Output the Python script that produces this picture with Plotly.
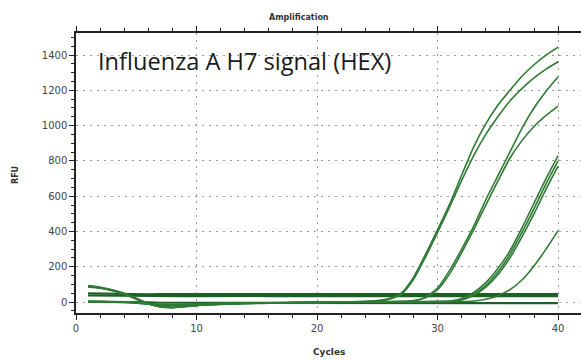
import plotly.graph_objects as go

cycles = list(range(1, 41))

curve_a = [91, 82, 68, 48, 20, -8, -26, -30, -25, -19, -15, -12, -10, -8, -7, -6, -5, -4, -3, -2,
           -1, 0, 2, 4, 8, 20, 52, 140, 270, 410, 555, 720, 880, 1010, 1115, 1200, 1280, 1345, 1400, 1445]
curve_b = [86, 78, 64, 44, 16, -10, -28, -32, -26, -20, -16, -13, -11, -9, -8, -7, -6, -5, -4, -3,
           -2, -1, 1, 3, 6, 16, 45, 128, 255, 395, 540, 690, 830, 950, 1050, 1140, 1210, 1270, 1320, 1362]
curve_c = [93, 84, 70, 50, 22, -6, -24, -29, -24, -18, -14, -11, -9, -7, -6, -5, -4, -3, -2, -1,
           0, 1, 1, 2, 2, 3, 4, 8, 28, 80, 180, 300, 430, 580, 715, 850, 985, 1100, 1195, 1277]
curve_d = [88, 80, 66, 46, 18, -9, -27, -31, -25, -19, -15, -12, -10, -8, -7, -6, -5, -4, -3, -2,
           -1, 0, 0, 1, 1, 2, 3, 6, 24, 70, 160, 280, 410, 550, 685, 815, 915, 995, 1058, 1111]
curve_e = [3, 2, 1, 0, -4, -10, -16, -17, -15, -12, -10, -8, -7, -6, -5, -4, -3, -3, -2, -2,
           -1, -1, 0, 0, 1, 1, 2, 2, 3, 4, 6, 20, 55, 110, 190, 290, 420, 560, 700, 830]
curve_f = [5, 4, 2, 0, -5, -12, -18, -19, -16, -13, -11, -9, -8, -7, -6, -5, -4, -3, -3, -2,
           -2, -1, -1, 0, 0, 1, 1, 2, 2, 3, 4, 15, 45, 95, 170, 270, 395, 530, 670, 800]
curve_g = [1, 0, -1, -2, -6, -12, -17, -18, -15, -12, -10, -8, -7, -6, -5, -4, -4, -3, -3, -2,
           -2, -1, -1, 0, 0, 0, 1, 1, 2, 2, 3, 12, 38, 85, 155, 250, 370, 500, 640, 770]
curve_h = [2, 1, 0, -1, -4, -9, -14, -15, -13, -11, -9, -8, -7, -6, -5, -4, -4, -3, -3, -2,
           -2, -1, -1, 0, 0, 0, 1, 1, 1, 2, 2, 3, 6, 16, 36, 70, 125, 205, 300, 405]
flat_1 = [50, 48, 46, 45, 45, 44, 45, 45, 44, 45, 45, 45, 44, 45, 45, 45, 44, 45, 45, 45,
          45, 44, 45, 45, 45, 44, 45, 45, 45, 44, 45, 45, 45, 44, 45, 45, 45, 44, 45, 45]
flat_2 = [38, 37, 36, 35, 34, 34, 35, 34, 34, 34, 35, 34, 34, 34, 35, 34, 34, 34, 35, 34,
          34, 34, 35, 34, 34, 34, 35, 34, 34, 34, 35, 34, 34, 34, 35, 34, 34, 34, 35, 34]
neg_1 = [2, 2, 1, 1, 0, -2, -4, -5, -5, -4, -4, -4, -4, -3, -3, -3, -3, -3, -3, -3,
         -3, -3, -3, -3, -3, -3, -3, -3, -3, -3, -4, -4, -5, -5, -5, -6, -6, -6, -6, -6]

y_ticks = [0, 200, 400, 600, 800, 1000, 1200, 1400]
x_ticks = [0, 10, 20, 30, 40]

amp_curves = [curve_a, curve_b, curve_c, curve_d, curve_e, curve_f, curve_g, curve_h]
flat_curves = [flat_1, flat_2, neg_1]

fig = go.Figure()
for ys in flat_curves:
    fig.add_trace(go.Scatter(x=cycles, y=ys, mode="lines",
                             line=dict(color="#1f5e25", width=2.2), hoverinfo="skip"))
for ys in amp_curves:
    fig.add_trace(go.Scatter(x=cycles, y=ys, mode="lines",
                             line=dict(color="#2f7a35", width=1.6, shape="spline", smoothing=0.6),
                             hoverinfo="skip"))

grid_kw = dict(showgrid=True, gridcolor="#9a9a9a", gridwidth=1, griddash="2px,5px")
tickfont = dict(family="DejaVu Sans", size=10, color="#444")

fig.update_layout(
    width=581, height=361,
    margin=dict(l=76, r=0, t=33, b=48),
    paper_bgcolor="white", plot_bgcolor="white",
    showlegend=False,
    xaxis=dict(range=[0, 41.9], tickvals=x_ticks, ticktext=[str(v) for v in x_ticks],
               showline=True, linecolor="#222", linewidth=1.5, mirror="ticks",
               ticks="outside", ticklen=5, tickcolor="#222", tickwidth=1,
               minor=dict(dtick=2, tick0=0, ticks="outside", ticklen=3, tickcolor="#222"),
               zeroline=False, tickfont=tickfont, **grid_kw),
    yaxis=dict(range=[-62, 1525], tickvals=y_ticks, ticktext=[str(v) for v in y_ticks],
               showline=True, linecolor="#222", linewidth=1.5,
               ticks="outside", ticklen=5, tickcolor="#222", tickwidth=1,
               minor=dict(dtick=50, tick0=0, ticks="outside", ticklen=3, tickcolor="#222"),
               zeroline=False, tickfont=tickfont, **grid_kw),
    annotations=[
        dict(text="<b>Amplification</b>", xref="paper", yref="paper",
             x=(299 - 76) / 505, y=(313 - 18) / 280, xanchor="center", yanchor="middle",
             showarrow=False, font=dict(family="DejaVu Sans", size=8, color="#333")),
        dict(text="<b>Cycles</b>", xref="paper", yref="paper",
             x=(329 - 76) / 505, y=(313 - 352) / 280, xanchor="center", yanchor="middle",
             showarrow=False, font=dict(family="DejaVu Sans", size=9, color="#333")),
        dict(text="<b>RFU</b>", xref="paper", yref="paper", textangle=-90,
             x=(15 - 76) / 505, y=(313 - 175) / 280, xanchor="center", yanchor="middle",
             showarrow=False, font=dict(family="DejaVu Sans", size=8, color="#333")),
        dict(text="Influenza A H7 signal (HEX)", xref="paper", yref="paper",
             x=(96 - 76) / 505, y=(313 - 61) / 280, xanchor="left", yanchor="middle",
             showarrow=False, font=dict(family="Open Sans", size=23.6, color="#1a1a1a")),
    ],
)

fig.write_html("out.html", config={"displayModeBar": False},
               post_script="document.body.style.margin='0';document.body.style.padding='0';")
